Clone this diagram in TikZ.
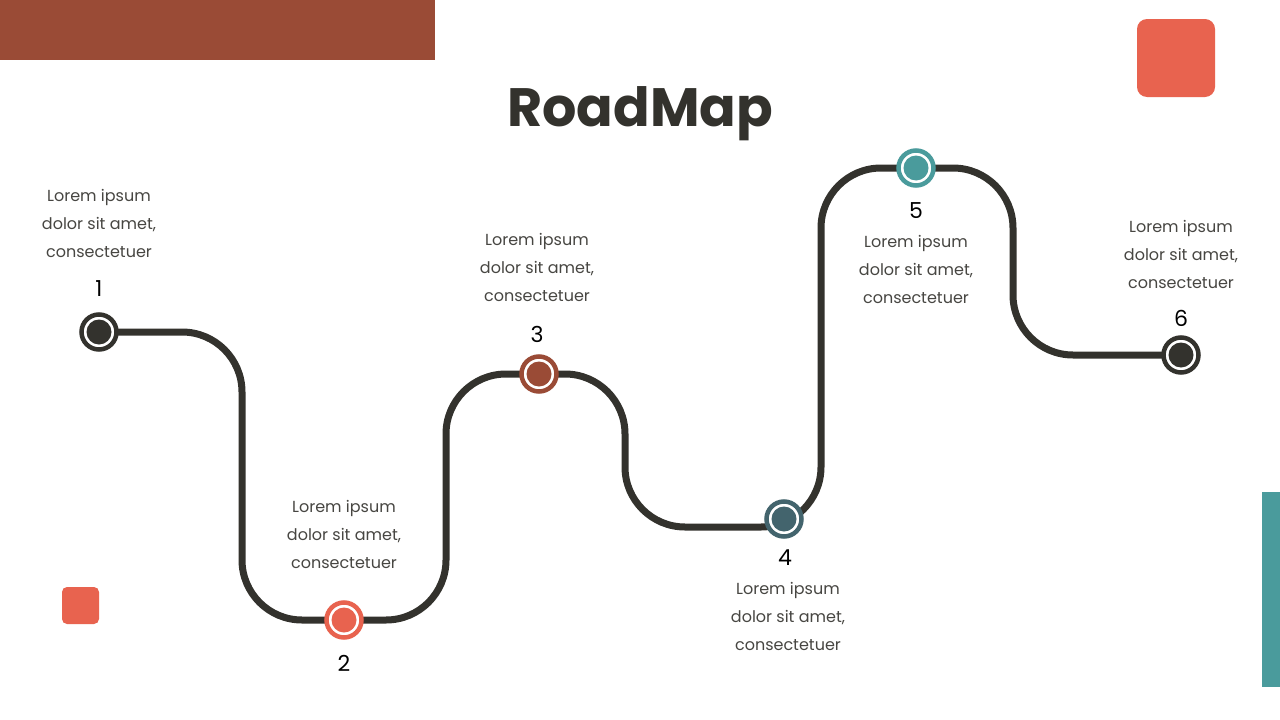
\documentclass[tikz,border=0pt]{standalone}
\usepackage{fontspec}
\setmainfont{Poppins}
\usetikzlibrary{backgrounds}
\definecolor{rust}{HTML}{9A4B36}
\definecolor{coral}{HTML}{E8634F}
\definecolor{teal}{HTML}{4A9B9C}
\definecolor{slate}{HTML}{43646D}
\definecolor{ink}{HTML}{33322D}
\tikzset{
  marker/.style={circle, inner sep=0pt, minimum size=35pt, line width=4.5pt, draw=#1, fill=white,
    path picture={\fill[#1] (path picture bounding box.center) circle (12.5pt);}},
  road/.style={draw=ink, line width=7pt, rounded corners=60pt},
  num/.style={font=\fontsize{22}{24}\selectfont, text=black, inner sep=0pt},
  blurb/.style={font=\fontsize{16}{28}\selectfont, text=ink!90, align=center, inner sep=0pt},
}
\begin{document}
\begin{tikzpicture}[x=1pt,y=-1pt]
\useasboundingbox (0,0) rectangle (1280,720);
% markers
\node[marker=ink] (m1) at (99,332) {};
\node[marker=coral] (m2) at (344,620) {};
\node[marker=rust] (m3) at (539,374) {};
\node[marker=slate] (m4) at (784,519) {};
\node[marker=teal] (m5) at (916,168) {};
\node[marker=ink] (m6) at (1181,355) {};
\begin{scope}[on background layer]
\fill[white] (0,0) rectangle (1280,720);
% decorations
\fill[rust] (0,0) rectangle (435,60);
\fill[coral, rounded corners=10pt] (1137,19) rectangle (1215,97);
\fill[coral, rounded corners=5pt] (62,587) rectangle (99,624);
\fill[teal] (1262,492) rectangle (1280,687);
% road
\draw[road] (m1.center) -- (242,332) -- (242,620) -- (m2.center);
\draw[road] (m2.center) -- (446,620) -- (446,374) -- (m3.center);
\draw[road] (m3.center) -- (625,374) -- (625,527) -- (821,527) -- (821,168) -- (m5.center);
\draw[road] (m5.center) -- (1013,168) -- (1013,355) -- (m6.center);
\end{scope}
% title
\node[font=\fontsize{54}{60}\selectfont\bfseries, text=ink] (title) at (640,114) {RoadMap};
% numbers
\node[num] (n1) at (99,289) {1};
\node[num] (n2) at (344,663) {2};
\node[num] (n3) at (537,334) {3};
\node[num] (n4) at (785,558) {4};
\node[num] (n5) at (916,211) {5};
\node[num] (n6) at (1181,318) {6};
% blurbs
\node[blurb] (t1) at (99,223) {Lorem ipsum\\dolor sit amet,\\consectetuer};
\node[blurb] (t2) at (344,534) {Lorem ipsum\\dolor sit amet,\\consectetuer};
\node[blurb] (t3) at (537,267) {Lorem ipsum\\dolor sit amet,\\consectetuer};
\node[blurb] (t4) at (788,616) {Lorem ipsum\\dolor sit amet,\\consectetuer};
\node[blurb] (t5) at (916,269) {Lorem ipsum\\dolor sit amet,\\consectetuer};
\node[blurb] (t6) at (1181,254) {Lorem ipsum\\dolor sit amet,\\consectetuer};
\end{tikzpicture}
\end{document}
